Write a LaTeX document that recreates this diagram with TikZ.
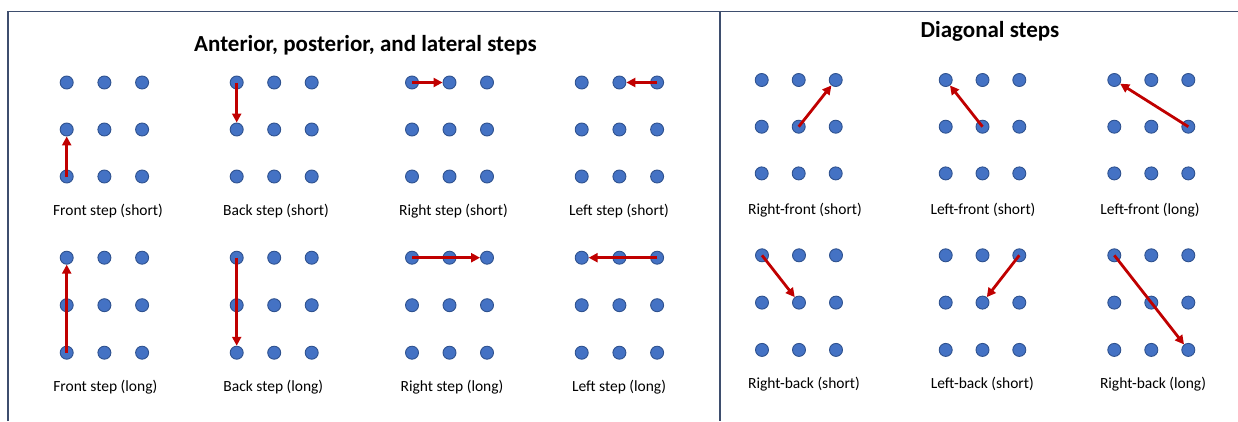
\documentclass[tikz,border=0pt]{standalone}
\usepackage{fontspec}
\setmainfont{Carlito}
\usetikzlibrary{arrows.meta}
\definecolor{dotfill}{HTML}{4472C4}
\definecolor{dotline}{HTML}{2F528F}
\definecolor{arrred}{HTML}{C00000}
\definecolor{framec}{HTML}{3E4E6E}
\newcommand\dotgrid[5]{%
  \foreach \r in {1,2,3}{%
    \foreach \c in {1,2,3}{%
      \node[dot] (#1-\r-\c) at ({#2+(\c-1)*#4},{#3+(\r-1)*#5}) {};
    }%
  }%
}
\begin{document}
\begin{tikzpicture}[x=1pt,y=-1pt,
  dot/.style={circle,fill=dotfill,draw=dotline,line width=0.9pt,minimum size=13pt,inner sep=0pt},
  steparrow/.style={arrred,line width=2.8pt,-{Triangle[length=9pt,width=9pt]}},
  lbl/.style={font=\fontsize{15.5}{18}\selectfont,anchor=base},
  ttl/.style={font=\fontsize{23}{27}\selectfont\bfseries,anchor=base},
  frame/.style={draw=framec,line width=1.5pt}]
\useasboundingbox (0,0) rectangle (1238,421);
% frames
\draw[frame] (8,421) -- (8,11.5) -- (1238,11.5);
\draw[frame] (720,11.5) -- (720,421);
% titles
\node[ttl] (t1) at (365.5,51.7) {Anterior, posterior, and lateral steps};
\node[ttl] (t2) at (990,37.5) {Diagonal steps};
% left section, row 1
\dotgrid{fs}{66.7}{82.5}{37.7}{47}
\dotgrid{bs}{236.7}{82.5}{37.5}{47}
\dotgrid{rs}{412}{82.5}{37.5}{47}
\dotgrid{ls}{581.7}{82.5}{37.7}{47}
% left section, row 2
\dotgrid{fl}{66.7}{257.7}{37.7}{47.5}
\dotgrid{bl}{236.7}{257.7}{37.5}{47.5}
\dotgrid{rl}{412}{257.7}{37.5}{47.5}
\dotgrid{ll}{581.7}{257.7}{37.7}{47.5}
% right section, row 1
\dotgrid{rfs}{761.7}{80}{37}{46.7}
\dotgrid{lfs}{945.7}{80}{36.8}{46.7}
\dotgrid{lfl}{1114.3}{80}{37}{46.7}
% right section, row 2
\dotgrid{rbs}{762}{255.3}{37}{47.3}
\dotgrid{lbs}{945.7}{255.3}{36.8}{47.3}
\dotgrid{rbl}{1114.3}{255.3}{37}{47.3}
% arrows
\draw[steparrow] (fs-3-1.center) -- (fs-2-1);
\draw[steparrow] (bs-1-1.center) -- (bs-2-1);
\draw[steparrow] (rs-1-1.center) -- (rs-1-2);
\draw[steparrow] (ls-1-3.center) -- (ls-1-2);
\draw[steparrow] (fl-3-1.center) -- (fl-1-1);
\draw[steparrow] (bl-1-1.center) -- (bl-3-1);
\draw[steparrow] (rl-1-1.center) -- (rl-1-3);
\draw[steparrow] (ll-1-3.center) -- (ll-1-1);
\draw[steparrow] (rfs-2-2.center) -- (rfs-1-3);
\draw[steparrow] (lfs-2-2.center) -- (lfs-1-1);
\draw[steparrow] (lfl-2-3.center) -- (lfl-1-1);
\draw[steparrow] (rbs-1-1.center) -- (rbs-2-2);
\draw[steparrow] (lbs-1-3.center) -- (lbs-2-2);
\draw[steparrow] (rbl-1-1.center) -- (rbl-3-3);
% labels
\node[lbl] (l1) at (108,215) {Front step (short)};
\node[lbl] (l2) at (276,215) {Back step (short)};
\node[lbl] (l3) at (453.5,215) {Right step (short)};
\node[lbl] (l4) at (619,215) {Left step (short)};
\node[lbl] (l5) at (105.3,391) {Front step (long)};
\node[lbl] (l6) at (273.3,391) {Back step (long)};
\node[lbl] (l7) at (452,391) {Right step (long)};
\node[lbl] (l8) at (619,391) {Left step (long)};
\node[lbl] (l9) at (805,214.5) {Right-front (short)};
\node[lbl] (l10) at (983,214.5) {Left-front (short)};
\node[lbl] (l11) at (1150,214.5) {Left-front (long)};
\node[lbl] (l12) at (804,388.5) {Right-back (short)};
\node[lbl] (l13) at (982.3,388.5) {Left-back (short)};
\node[lbl] (l14) at (1153,388.5) {Right-back (long)};
\end{tikzpicture}
\end{document}
